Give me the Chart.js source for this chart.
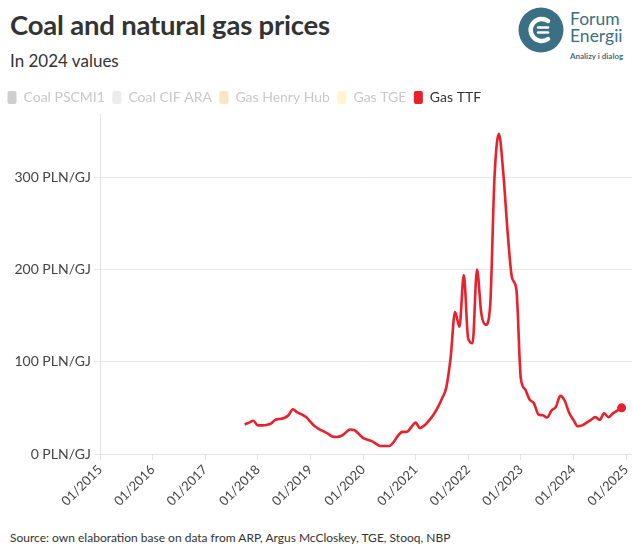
<!DOCTYPE html>
<html>
<head>
<meta charset="utf-8">
<script src="https://cdn.jsdelivr.net/npm/chart.js@4.4.1/dist/chart.umd.min.js"></script>
<style>
  html, body { margin:0; padding:0; background:#fff; }
  body { width:632px; height:545px; position:relative; overflow:hidden; font-family: Lato, "Open Sans", sans-serif; }
  #title { position:absolute; left:10px; top:8px; font-weight:700; font-size:27.5px; color:#333; letter-spacing:-0.2px; }
  #sub { position:absolute; left:10px; top:50px; font-size:17px; color:#333; }
  #src { position:absolute; left:10px; top:530px; font-size:12px; color:#333; }
  #wrap { position:absolute; left:0; top:80px; width:632px; height:440px; }
  #logo { position:absolute; left:518px; top:7px; width:114px; height:60px; }
  #logo .t1 { position:absolute; left:52px; top:3px; font-size:17.5px; line-height:17px; color:#3b7084; }
  #logo .t2 { position:absolute; left:52px; top:44px; font-size:8px; font-weight:700; color:#3b7084; white-space:nowrap; }
</style>
</head>
<body>
<div id="title">Coal and natural gas prices</div>
<div id="sub">In 2024 values</div>
<div id="logo">
  <svg width="48" height="48" viewBox="0 0 48 48" style="position:absolute;left:0;top:0">
    <circle cx="23" cy="23" r="22.5" fill="#3b7084"/>
    <path d="M30 14 A11 11 0 1 0 30 32" fill="none" stroke="#fff" stroke-width="4.5" stroke-linecap="round"/>
    <line x1="20" y1="20.5" x2="30" y2="20.5" stroke="#fff" stroke-width="2.5" stroke-linecap="round"/>
    <line x1="20" y1="25.5" x2="30" y2="25.5" stroke="#fff" stroke-width="2.5" stroke-linecap="round"/>
  </svg>
  <div class="t1">Forum<br>Energii</div>
  <div class="t2">Analizy i dialog</div>
</div>
<div id="wrap"><canvas id="c"></canvas></div>
<div id="src">Source: own elaboration base on data from ARP, Argus McCloskey, TGE, Stooq, NBP</div>
<script>
// Series names and legend colours
const seriesNames = ['Coal PSCMI1', 'Coal CIF ARA', 'Gas Henry Hub', 'Gas TGE', 'Gas TTF'];
const seriesColors = ['#cfcfcf', '#ececec', '#fde5c3', '#fcf6cf', '#e8212c'];
const seriesVisible = [false, false, false, false, true];

// X-axis ticks (years)
const tickYears = [2015, 2016, 2017, 2018, 2019, 2020, 2021, 2022, 2023, 2024, 2025];
// Y-axis ticks
const yTicks = [0, 100, 200, 300];

// Months of the Gas TTF series
const ttfMonths = [
  '2017-10','2017-11','2017-12',
  '2018-01','2018-02','2018-03','2018-04','2018-05','2018-06','2018-07','2018-08','2018-09','2018-10','2018-11','2018-12',
  '2019-01','2019-02','2019-03','2019-04','2019-05','2019-06','2019-07','2019-08','2019-09','2019-10','2019-11','2019-12',
  '2020-01','2020-02','2020-03','2020-04','2020-05','2020-06','2020-07','2020-08','2020-09','2020-10','2020-11','2020-12',
  '2021-01','2021-02','2021-03','2021-04','2021-05','2021-06','2021-07','2021-08','2021-09','2021-10','2021-11','2021-12',
  '2022-01','2022-02','2022-03','2022-04','2022-05','2022-06','2022-07','2022-08','2022-09','2022-10','2022-11','2022-12',
  '2023-01','2023-02','2023-03','2023-04','2023-05','2023-06','2023-07','2023-08','2023-09','2023-10','2023-11','2023-12',
  '2024-01','2024-02','2024-03','2024-04','2024-05','2024-06','2024-07','2024-08','2024-09','2024-10','2024-11','2024-12'
];
// Gas TTF prices, PLN/GJ (2024 values)
const ttfValues = [
  32, 34, 36,
  31, 31, 31.5, 33, 37, 38, 39, 42, 48.5, 45, 43, 40,
  35, 30, 27, 24.5, 22, 19, 18.5, 19.5, 23, 26.6, 26, 22,
  17.5, 15.5, 14, 11, 8.6, 8.6, 8.6, 13, 20, 24, 24, 29,
  34, 28, 31, 36, 42, 50, 60, 72, 105, 154, 138, 194,
  125, 120, 200, 152, 140, 160, 300, 347, 305, 240, 191, 178,
  82, 70, 59, 55, 43, 42, 39.5, 47, 51, 63, 58, 45,
  37, 30, 31, 34, 37, 40, 37, 44, 40, 44, 47, 50
];

const toYear = s => { const [y, m] = s.split('-').map(Number); return y + (m - 1) / 12; };
const ttfPoints = ttfMonths.map((m, i) => ({ x: toYear(m), y: ttfValues[i] }));

const datasets = seriesNames.map((name, i) => ({
  label: name,
  data: name === 'Gas TTF' ? ttfPoints : [],
  borderColor: seriesColors[i],
  backgroundColor: seriesColors[i],
  borderWidth: 2.6,
  cubicInterpolationMode: 'monotone',
  pointRadius: ctx => (ctx.dataIndex === ttfPoints.length - 1 ? 4.5 : 0),
  pointHoverRadius: 0,
  pointBorderWidth: 0,
  clip: false
}));

const FONT = 'Lato, "Open Sans", sans-serif';

new Chart(document.getElementById('c'), {
  type: 'line',
  data: { datasets },
  options: {
    responsive: true,
    maintainAspectRatio: false,
    animation: false,
    events: [],
    layout: { autoPadding: false, padding: { left: 0, right: 0, top: 3, bottom: 0 } },
    plugins: {
      tooltip: { enabled: false },
      legend: {
        position: 'top',
        align: 'start',
        labels: {
          boxWidth: 9,
          boxHeight: 13,
          padding: 7.5,
          useBorderRadius: true,
          borderRadius: 2,
          font: { family: FONT, size: 14 },
          generateLabels: chart => seriesNames.map((n, i) => ({
            text: n,
            fillStyle: seriesColors[i],
            strokeStyle: seriesColors[i],
            lineWidth: 0,
            hidden: false,
            fontColor: seriesVisible[i] ? '#333' : '#c9c9c9',
            borderRadius: 2,
            datasetIndex: i
          }))
        }
      }
    },
    scales: {
      x: {
        type: 'linear',
        min: 2015,
        max: 2025.114,
        afterBuildTicks: s => { s.ticks = tickYears.map(v => ({ value: v })); },
        afterFit: s => { s.height = 66; s.paddingRight = 0; s.paddingLeft = 0; },
        grid: { drawOnChartArea: false, drawTicks: true, tickLength: 6, color: '#e4e4e4' },
        border: { display: true, color: '#e4e4e4' },
        ticks: {
          autoSkip: false,
          maxRotation: 45,
          minRotation: 45,
          padding: 2,
          color: '#444',
          font: { family: FONT, size: 13 },
          callback: v => '01/' + v
        }
      },
      y: {
        type: 'linear',
        min: 0,
        max: 368,
        afterBuildTicks: s => { s.ticks = yTicks.map(v => ({ value: v })); },
        afterFit: s => { s.width = 100; },
        grid: { drawTicks: true, tickLength: 6, color: '#e8e8e8' },
        border: { display: true, color: '#e4e4e4' },
        ticks: {
          padding: 3,
          color: '#444',
          font: { family: FONT, size: 14 },
          callback: v => v + ' PLN/GJ'
        }
      }
    }
  }
});
</script>
</body>
</html>
